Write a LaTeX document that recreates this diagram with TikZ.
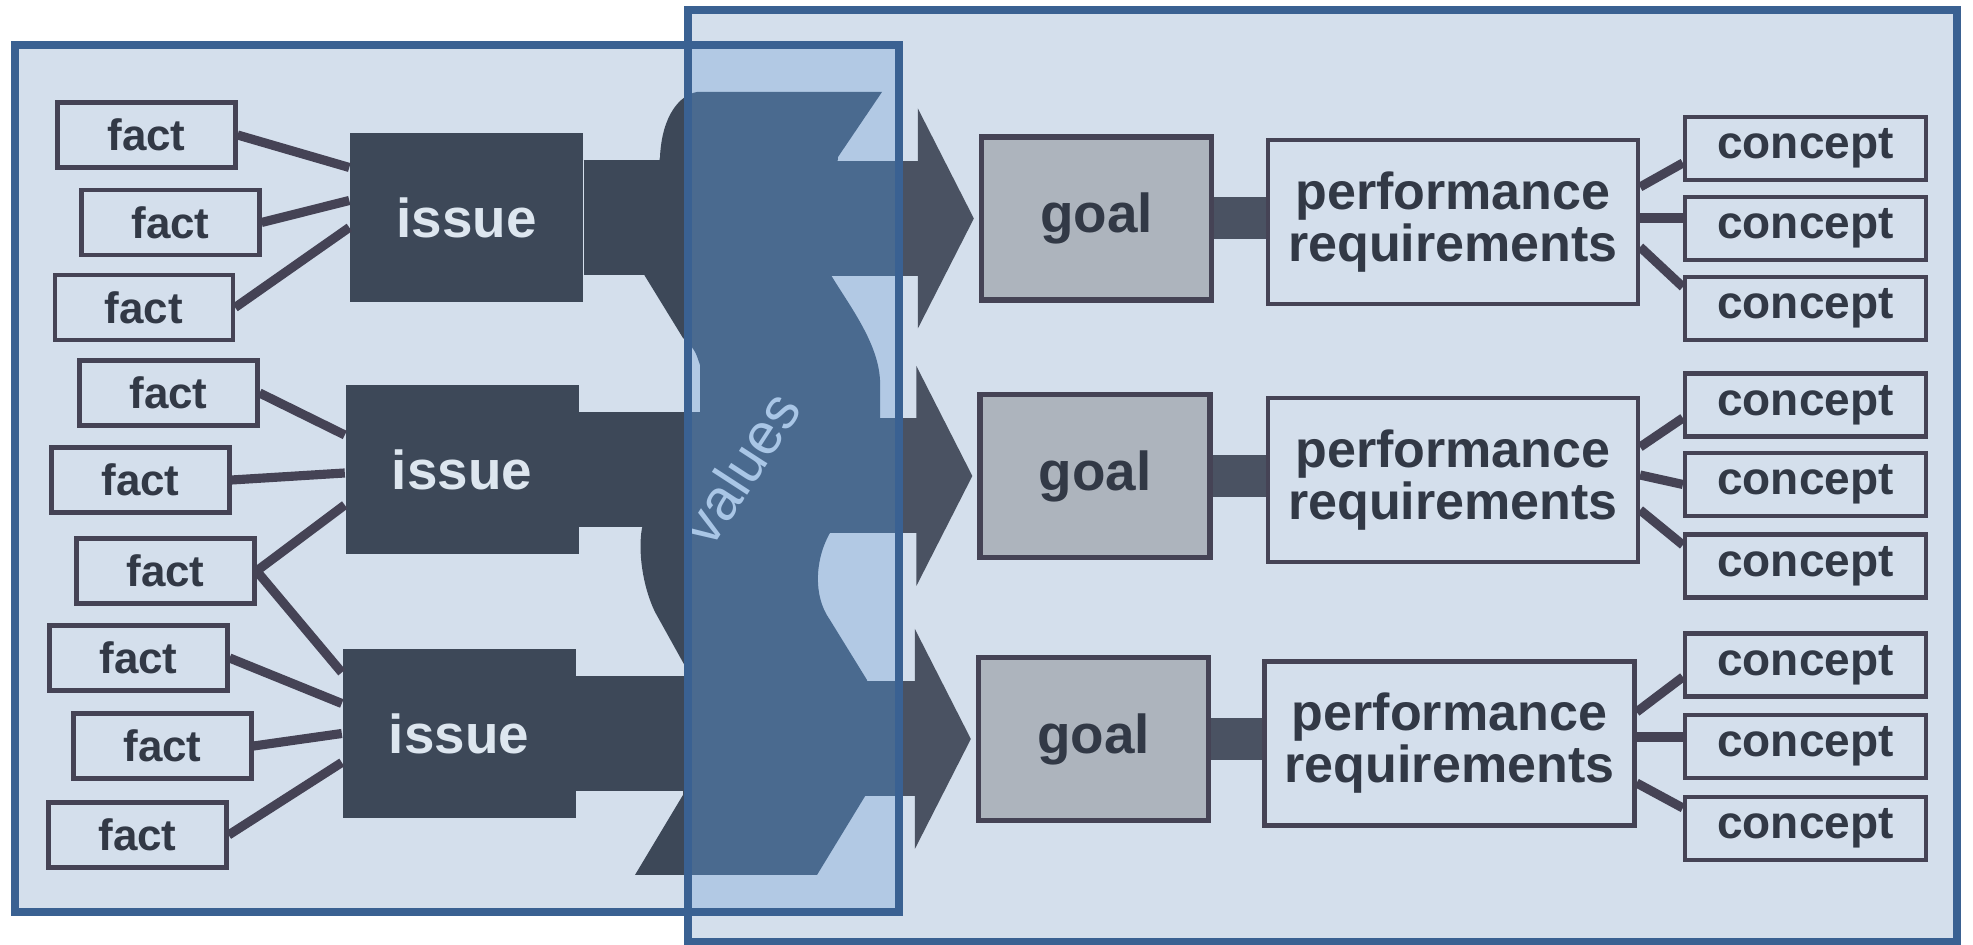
\documentclass[tikz,border=0pt]{standalone}
\usepackage{fontspec}
\setmainfont{Liberation Sans}

\definecolor{paper}{HTML}{D4DFEC}
\definecolor{framec}{HTML}{3A6192}
\definecolor{slate}{HTML}{3D4858}
\definecolor{arrowc}{HTML}{4A5262}
\definecolor{bandblue}{HTML}{4A6A8F}
\definecolor{pocket}{HTML}{B2C9E4}
\definecolor{boxline}{HTML}{454355}
\definecolor{ink}{HTML}{323946}
\definecolor{goalfill}{HTML}{ADB4BD}
\definecolor{valtext}{HTML}{A9C6E6}
\definecolor{issuetext}{HTML}{DDE6EF}

% outline of the wavy values band
\newcommand{\valuesband}{(6.97,-0.92) -- (8.82,-0.92) -- (8.38,-1.57) -- (8.28,-2.70)
	.. controls (8.45,-3.00) and (8.78,-3.40) .. (8.80,-3.80) -- (8.80,-4.20) -- (8.33,-5.28)
	.. controls (8.15,-5.55) and (8.12,-5.95) .. (8.30,-6.20) -- (8.67,-6.80) -- (8.67,-7.93)
	-- (8.17,-8.75) -- (6.35,-8.75) -- (6.83,-7.95) -- (6.90,-6.75) -- (6.55,-6.12)
	.. controls (6.42,-5.85) and (6.38,-5.50) .. (6.42,-5.28) -- (7.00,-4.12) -- (7.00,-3.65)
	.. controls (6.95,-3.50) .. (6.83,-3.38) -- (6.40,-2.68) -- (6.60,-1.57)
	.. controls (6.62,-1.15) and (6.80,-0.95) .. (6.97,-0.92) -- cycle}

\begin{document}
\begin{tikzpicture}
	[
	fact/.style={draw=boxline, line width=1.2pt, fill=paper, minimum width=1.78cm, minimum height=0.65cm, inner sep=0pt, text=ink, font=\bfseries\fontsize{12.5}{14}\selectfont},
	issue/.style={fill=slate, minimum width=2.33cm, minimum height=1.69cm, inner sep=0pt, text=issuetext, font=\bfseries\fontsize{15.6}{18}\selectfont},
	goal/.style={draw=boxline, line width=1.5pt, fill=goalfill, minimum width=2.30cm, minimum height=1.63cm, inner sep=0pt, text=ink, font=\bfseries\fontsize{15.6}{18}\selectfont},
	perf/.style={draw=boxline, line width=1.2pt, fill=paper, minimum width=3.70cm, minimum height=1.64cm, inner sep=0pt, align=center, text=ink, font=\bfseries\fontsize{14.8}{13.4}\selectfont},
	concept/.style={draw=boxline, line width=1.2pt, fill=paper, minimum width=2.41cm, minimum height=0.63cm, inner sep=0pt, text=ink, font=\bfseries\fontsize{13.1}{15}\selectfont},
	link/.style={draw=boxline, line width=2.6pt},
	slab/.style={line width=1.15cm},
	frame/.style={draw=framec, line width=0.08cm}
	]
		% page and panels
		\useasboundingbox (0,0) rectangle (19.73,-9.45);
		\fill[white] (0,0) rectangle (19.73,-9.45);
		\fill[paper] (0.15,-0.45) rectangle (8.99,-9.12);
		\fill[paper] (6.88,-0.10) rectangle (19.57,-9.42);
		
		% facts
		\node[fact] (f1) at (1.465, -1.35) {fact};
		\node[fact] (f2) at (1.705, -2.225) {fact};
		\node[fact] (f3) at (1.44, -3.075) {fact};
		\node[fact] (f4) at (1.685, -3.93) {fact};
		\node[fact] (f5) at (1.405, -4.80) {fact};
		\node[fact] (f6) at (1.655, -5.71) {fact};
		\node[fact] (f7) at (1.385, -6.58) {fact};
		\node[fact] (f8) at (1.625, -7.46) {fact};
		\node[fact] (f9) at (1.375, -8.35) {fact};
		
		% issues
		\node[issue] (i1) at (4.665, -2.175) {issue};
		\node[issue] (i2) at (4.62, -4.70) {issue};
		\node[issue] (i3) at (4.59, -7.335) {issue};
		
		% goals
		\node[goal] (g1) at (10.965, -2.185) {goal};
		\node[goal] (g2) at (10.95, -4.76) {goal};
		\node[goal] (g3) at (10.935, -7.39) {goal};
		
		% performance requirements
		\node[perf] (pr1) at (14.53, -2.22) {performance\\requirements};
		\node[perf] (pr2) at (14.53, -4.80) {performance\\requirements};
		\node[perf] (pr3) at (14.495, -7.435) {performance\\requirements};
		
		% concepts
		\node[concept] (c1) at (18.055, -1.485) {concept};
		\node[concept] (c2) at (18.055, -2.285) {concept};
		\node[concept] (c3) at (18.055, -3.085) {concept};
		\node[concept] (c4) at (18.055, -4.05) {concept};
		\node[concept] (c5) at (18.055, -4.845) {concept};
		\node[concept] (c6) at (18.055, -5.66) {concept};
		\node[concept] (c7) at (18.055, -6.65) {concept};
		\node[concept] (c8) at (18.055, -7.465) {concept};
		\node[concept] (c9) at (18.055, -8.285) {concept};
		
		% values band with bars and arrows
		\coordinate (vin) at (7.30, 0);
		\coordinate (vout) at (7.80, 0);
		\fill[slate] \valuesband;
		\foreach \i in {i1,i2,i3} \draw[slab, slate] (\i.east) -- (\i.east -| vin);
		\foreach \g in {g1,g2,g3} \draw[slab, arrowc] (\g.west -| vout) -- ([xshift=-0.58cm]\g.west);
		\foreach \g in {g1,g2,g3} \fill[arrowc] ([xshift=-0.05cm]\g.west) -- ([xshift=-0.61cm, yshift=1.10cm]\g.west) -- ([xshift=-0.61cm, yshift=-1.10cm]\g.west) -- cycle;
		
		% light middle strip
		\begin{scope}
			\clip (6.88,-0.45) rectangle (8.99,-9.12);
			\fill[pocket] (6.88,-0.45) rectangle (8.99,-9.12);
			\fill[bandblue] \valuesband;
			\foreach \i in {i1,i2,i3} \draw[slab, bandblue] (\i.east) -- (\i.east -| vin);
			\foreach \g in {g1,g2,g3} \draw[slab, bandblue] (\g.west -| vout) -- ([xshift=-0.58cm]\g.west);
		\end{scope}
		\node[rotate=57, text=valtext, font=\fontsize{16.5}{18}\selectfont] (vt) at (7.40, -4.68) {values};
		
		% frames
		\draw[frame] (0.15,-0.45) rectangle (8.99,-9.12);
		\draw[frame] (6.88,-0.10) rectangle (19.57,-9.42);
		
		% drawing code
		\foreach \f/\i/\s in {f1/i1/0.50, f2/i1/0.17, f3/i1/-0.10, f4/i2/0.35, f5/i2/-0.03, f6/i2/-0.35, f6/i3/0.61, f7/i3/0.30, f8/i3/0, f9/i3/-0.29} \draw[link] (\f.east) -- ([yshift=\s cm]\i.west);
		\foreach \g/\p in {g1/pr1,g2/pr2,g3/pr3} \draw[arrowc, line width=0.42cm] (\g.east) -- (\g.east -| \p.west);
		\foreach \p/\c/\a/\b in {pr1/c1/0.35/-0.145, pr1/c2/0.04/0.105, pr1/c3/-0.25/0.215, pr2/c4/0.33/-0.13, pr2/c5/0.05/0.0, pr2/c6/-0.30/0.21, pr3/c7/0.315/-0.12, pr3/c8/0.065/0.095, pr3/c9/-0.395/0.205} \draw[link] ([yshift=\a cm]\p.east) -- ([yshift=\b cm]\c.west);
	\end{tikzpicture}
\end{document}
